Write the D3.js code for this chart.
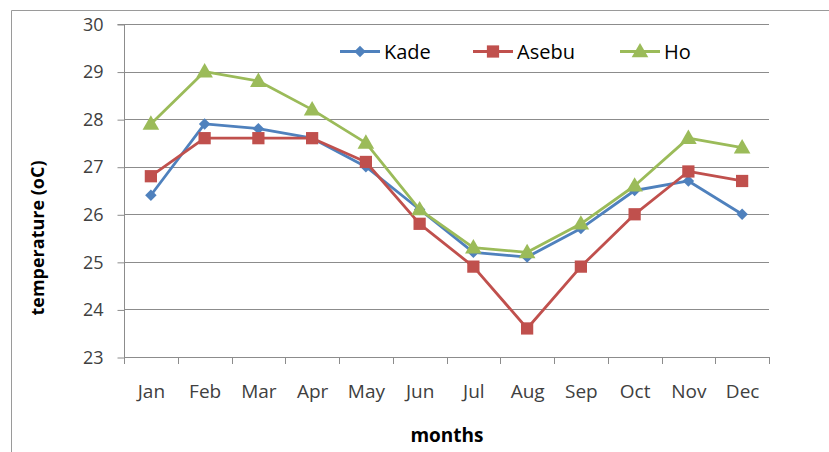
<!DOCTYPE html>
<html><head><meta charset="utf-8">
<script src="https://cdn.jsdelivr.net/npm/d3@7/dist/d3.min.js"></script>
<style>body{margin:0;background:#fff;}svg{display:block;}</style>
</head><body>
<svg id="c" width="829" height="452"></svg>
<script>
const months = ["Jan","Feb","Mar","Apr","May","Jun","Jul","Aug","Sep","Oct","Nov","Dec"];
const kade  = [26.4, 27.9, 27.8, 27.6, 27.0, 26.1, 25.2, 25.1, 25.7, 26.5, 26.7, 26.0];
const asebu = [26.8, 27.6, 27.6, 27.6, 27.1, 25.8, 24.9, 23.6, 24.9, 26.0, 26.9, 26.7];
const ho    = [27.9, 29.0, 28.8, 28.2, 27.5, 26.1, 25.3, 25.2, 25.8, 26.6, 27.6, 27.4];
const yTicks = [23, 24, 25, 26, 27, 28, 29, 30];
const seriesNames = ["Kade", "Asebu", "Ho"];
const seriesColors = ["#4F81BD", "#C0504D", "#9BBB59"];
const seriesSymbols = [d3.symbolSquare, d3.symbolSquare, d3.symbolTriangle];
const seriesValues = [kade, asebu, ho];

const svg = d3.select("#c");
const font = "'Open Sans', 'Liberation Sans', sans-serif";
const L = 124, R = 769, T = 24, B = 357;

// outer border
svg.append("path").attr("d", "M11.5,452 L11.5,10.5 L829,10.5")
  .attr("fill", "none").attr("stroke", "#9a9a9a").attr("stroke-width", 1);

const x = d3.scaleBand().domain(months).range([L, R]).padding(0);
const y = d3.scaleLinear().domain([23, 30]).range([B, T]);

// gridlines
svg.append("g").selectAll("line").data(yTicks.filter(t => t > 23)).join("line")
  .attr("x1", L).attr("x2", R)
  .attr("y1", d => Math.round(y(d)) + 0.5).attr("y2", d => Math.round(y(d)) + 0.5)
  .attr("stroke", "#8c8c8c").attr("stroke-width", 1);

// y axis
const yAxis = svg.append("g").attr("transform", `translate(${L + 0.5},0.5)`)
  .call(d3.axisLeft(y).tickValues(yTicks).tickSize(7).tickPadding(14).tickFormat(d3.format("d")));
yAxis.select(".domain").attr("stroke", "#8c8c8c").attr("d", `M-7,${T}H0V${B}`);
yAxis.selectAll(".tick line").attr("stroke", "#8c8c8c");
yAxis.selectAll("text").attr("font-family", font).attr("font-size", 18).attr("fill", "#404040");

// x axis
const xAxis = svg.append("g").attr("transform", `translate(0.5,${B + 0.5})`)
  .call(d3.axisBottom(x).tickSize(0).tickPadding(27));
xAxis.select(".domain").attr("stroke", "#8c8c8c").attr("d", `M${L},0H${R}`);
xAxis.selectAll("text").attr("font-family", font).attr("font-size", 19).attr("fill", "#404040");
// category boundary ticks
const bounds = months.map(m => x(m)).concat([R]);
svg.append("g").selectAll("line").data(bounds).join("line")
  .attr("x1", d => Math.round(d) + 0.5).attr("x2", d => Math.round(d) + 0.5)
  .attr("y1", B).attr("y2", B + 7).attr("stroke", "#8c8c8c");

// axis titles
svg.append("text").attr("transform", `translate(44,238) rotate(-90)`)
  .attr("text-anchor", "middle").attr("font-family", font).attr("font-weight", "bold")
  .attr("font-size", 18).attr("fill", "#000").text("temperature (oC)");
svg.append("text").attr("x", 447).attr("y", 442)
  .attr("text-anchor", "middle").attr("font-family", font).attr("font-weight", "bold")
  .attr("font-size", 19).attr("fill", "#000").text("months");

const cx = m => x(m) + x.bandwidth() / 2;
const line = d3.line().x((d, i) => cx(months[i])).y(d => y(d));
const symSizes = [66, 150, 120];
const symRot = [45, 0, 0];
const symDy = [0, 0, 1];

seriesValues.forEach((vals, s) => {
  const g = svg.append("g");
  g.append("path").datum(vals).attr("d", line).attr("fill", "none")
    .attr("stroke", seriesColors[s]).attr("stroke-width", 2.8).attr("stroke-linejoin", "round");
  g.selectAll("path.m").data(vals).join("path").attr("class", "m")
    .attr("transform", (d, i) => `translate(${cx(months[i])},${y(d) + symDy[s]}) rotate(${symRot[s]})`)
    .attr("d", d3.symbol().type(seriesSymbols[s]).size(symSizes[s]))
    .attr("fill", seriesColors[s]);
});

// legend
const legX = [340, 473, 620];
seriesNames.forEach((n, s) => {
  const g = svg.append("g").attr("transform", `translate(${legX[s]},51.5)`);
  g.append("line").attr("x1", 0).attr("x2", 40).attr("stroke", seriesColors[s]).attr("stroke-width", 2.8);
  g.append("path").attr("transform", `translate(20,${symDy[s]}) rotate(${symRot[s]})`)
    .attr("d", d3.symbol().type(seriesSymbols[s]).size(symSizes[s])).attr("fill", seriesColors[s]);
  g.append("text").attr("x", 44).attr("y", 7).attr("font-family", font).attr("font-size", 20)
    .attr("fill", "#000").text(n);
});
</script>
</body></html>
